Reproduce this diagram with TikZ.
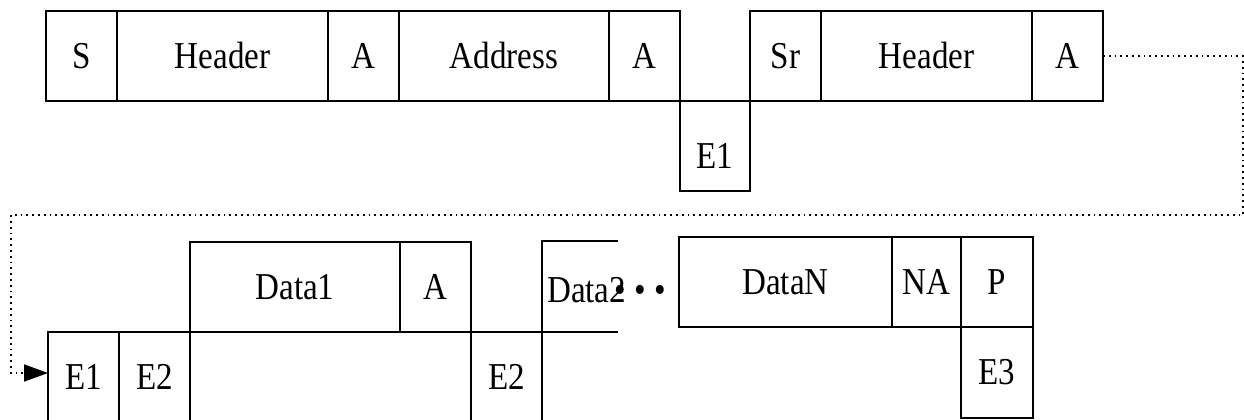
\documentclass[tikz,border=0pt]{standalone}
\usepackage{fontspec}
\setmainfont{Liberation Serif}[FakeStretch=0.87]
\usetikzlibrary{positioning,arrows.meta}

\begin{document}
\begin{tikzpicture}[x=1pt,y=-1pt,font=\fontsize{38}{44}\selectfont,
  cell/.style={draw,line width=1.5pt,outer sep=0pt,inner sep=0pt,minimum width=71pt,minimum height=90pt},
  wide/.style={cell,minimum width=211pt},
  link/.style={line width=1.8pt,dash pattern=on 1.8pt off 4pt,-{Triangle[length=24pt,width=17pt]}}]
\useasboundingbox (0,0) rectangle (1244,420);
\clip (0,0) rectangle (1244,420);
% First part: address and repeated start
\node[cell,anchor=north west] (s) at (46,11) {S};
\node[wide,right=0pt of s] (hd1) {Header};
\node[cell,right=0pt of hd1] (a1) {A};
\node[wide,right=0pt of a1,minimum width=210pt] (addr) {Address};
\node[cell,right=0pt of addr] (a2) {A};
\node[cell,anchor=north west,minimum width=70pt] (e1top) at (a2.south east) {\raisebox{-10pt}[\height][\depth]{E1}};
\node[cell,anchor=south west] (sr) at (e1top.north east) {Sr};
\node[wide,right=0pt of sr] (hd2) {Header};
\node[cell,right=0pt of hd2] (a3) {A};
% Second part: data bytes
\node[cell,anchor=north west] (e1) at (48,332) {E1};
\node[cell,right=0pt of e1] (e2) {E2};
\node[cell,anchor=south west,minimum width=210pt] (d1) at (e2.north east) {Data1};
\node[cell,right=0pt of d1] (a4) {A};
\node[cell,anchor=north west] (e2b) at (a4.south east) {E2};
% Data2 box left open
\draw[line width=1.5pt] (618,241) -| (e2b.north east) -- (618,332);
\node[anchor=base west,inner sep=0pt] (d2) at (547,302) {Data2};
\node[anchor=base,inner sep=0pt] (dots) at (640,302) {• • •};
\node[cell,anchor=north west,minimum width=213pt] (dn) at (679,237) {DataN};
\node[cell,right=0pt of dn,minimum width=69pt] (na) {NA};
\node[cell,right=0pt of na,minimum width=72pt] (p) {P};
\node[cell,below=0pt of p,minimum width=72pt,minimum height=91pt] (e3) {E3};
% Wrap-around to the next line
\coordinate (turn1) at (1243,215);
\coordinate (turn2) at (11,215);
\draw[link] (a3.east) -| (turn1) -- (turn2) |- ([yshift=4pt]e1.west);
\end{tikzpicture}
\end{document}
